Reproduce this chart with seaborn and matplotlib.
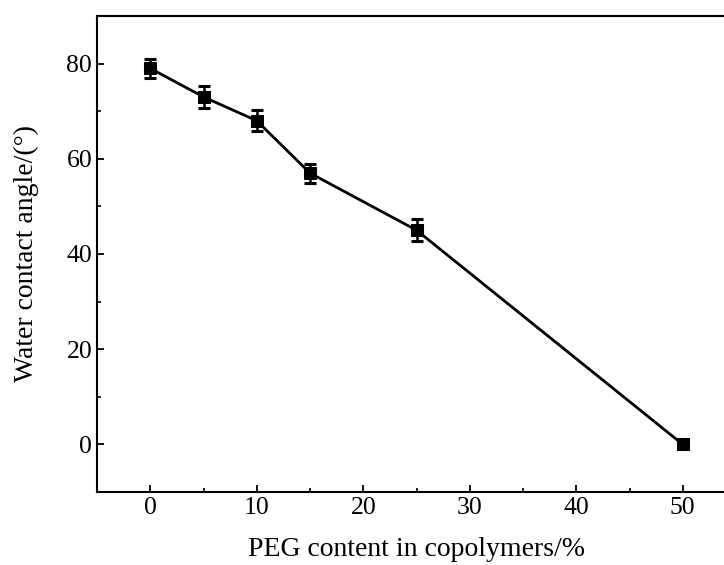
import matplotlib
matplotlib.use("Agg")
import matplotlib.pyplot as plt
import seaborn as sns
import pandas as pd
from matplotlib.ticker import MultipleLocator

peg_content = [0, 5, 10, 15, 25, 50]
contact_angle = [79, 73, 68, 57, 45, 0]
angle_err = [2, 2.3, 2.2, 2, 2.3, 0.8]
x_ticks = [0, 10, 20, 30, 40, 50]
y_ticks = [0, 20, 40, 60, 80]

df = pd.DataFrame({"peg": peg_content, "angle": contact_angle, "err": angle_err})

sns.set_style("ticks")
plt.rcParams["font.family"] = ["Liberation Serif", "DejaVu Serif"]
plt.rcParams["text.color"] = "black"
plt.rcParams["axes.labelcolor"] = "black"

fig = plt.figure(figsize=(7.24, 5.65), dpi=100)
ax = fig.add_axes([97 / 724, 73 / 565, 639 / 724, 476 / 565])

ax.errorbar(df["peg"], df["angle"], yerr=df["err"], fmt="none", ecolor="black",
            elinewidth=1.8, capsize=4.5, capthick=2.2, zorder=3)
sns.lineplot(data=df, x="peg", y="angle", ax=ax, color="black", linewidth=2.0,
             marker="s", markersize=9, markeredgecolor="black", markerfacecolor="black",
             zorder=4)

ax.set_xlim(-5, 55)
ax.set_ylim(-10, 90)
ax.set_xticks(x_ticks)
ax.set_yticks(y_ticks)
ax.xaxis.set_minor_locator(MultipleLocator(5))
ax.yaxis.set_minor_locator(MultipleLocator(10))
ax.tick_params(axis="both", which="major", direction="in", length=5, width=1.3,
               labelsize=18.5, colors="black", labelcolor="black", pad=3.5)
ax.tick_params(axis="both", which="minor", direction="in", length=3, width=1.2,
               colors="black")
ax.tick_params(axis="both", top=False, right=False, which="both")

for s in ax.spines.values():
    s.set_linewidth(1.5)
    s.set_color("black")

ax.set_xlabel("PEG content in copolymers/%", fontsize=20, labelpad=13, color="black")
ax.set_ylabel("Water contact angle/(°)", fontsize=20, labelpad=20, color="black")

fig.savefig("out.png", dpi=100)
